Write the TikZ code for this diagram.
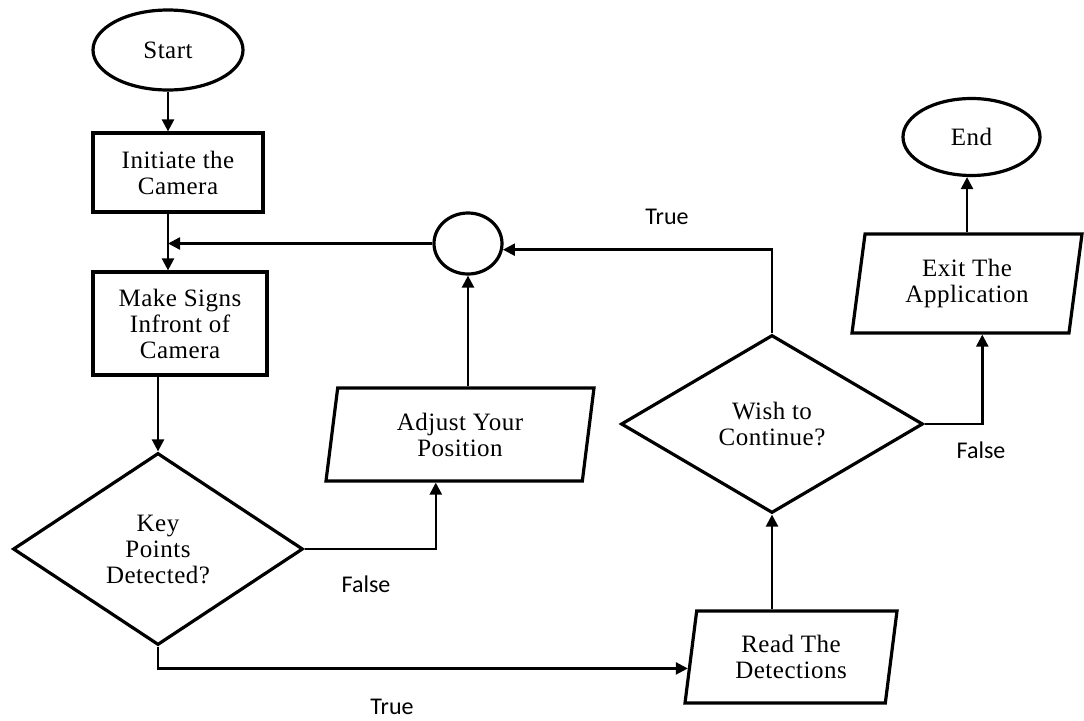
\documentclass[tikz,border=0pt]{standalone}
\usepackage{fontspec}
\setmainfont{Liberation Serif}[LetterSpace=2]
\newfontfamily\labelfont{Carlito}
\usetikzlibrary{shapes.geometric,arrows.meta,calc}

\begin{document}
\begin{tikzpicture}[x=1pt,y=-1pt,
  every node/.style={font=\fontsize{25}{26}\selectfont, align=center},
  shapeline/.style={draw=black, line width=3.2pt},
  terminal/.style={shapeline, ellipse, inner sep=0pt},
  process/.style={shapeline, rectangle, inner sep=0pt},
  decision/.style={shapeline, diamond, inner sep=0pt},
  io/.style={shapeline, trapezium, trapezium left angle=75, trapezium right angle=105,
             trapezium stretches body, inner sep=0pt},
  flow/.style={line width=2.4pt, -{Triangle[length=12pt,width=12pt]}},
  lbl/.style={font=\labelfont\fontsize{24}{26}\selectfont, inner sep=0pt}]

\useasboundingbox (0,0) rectangle (1084,720);

% process chain on the left
\node[terminal, minimum width=150, minimum height=80] (start) at (168,50) {Start};
\node[process, minimum width=170, minimum height=79] (init) at (178,172.5) {Initiate the\\Camera};
\node[process, minimum width=174, minimum height=103] (signs) at (180,323.5) {Make Signs\\Infront of\\Camera};
\node[decision, minimum width=290, minimum height=192] (key) at (158,549) {Key\\Points\\Detected?};

% retry loop
\node[io, minimum width=268, minimum height=93] (adjust) at (460,434.5) {Adjust Your\\Position};
\node[terminal, minimum width=68, minimum height=61] (join) at (468,243.5) {};

% detection and exit branch
\node[io, minimum width=212, minimum height=92] (read) at (791,657) {Read The\\Detections};
\node[decision, minimum width=302, minimum height=178] (wish) at (772,424) {Wish to\\Continue?};
\node[io, minimum width=230, minimum height=99] (exit) at (967,283.5) {Exit The\\Application};
\node[terminal, minimum width=137, minimum height=77] (end) at (971.5,137) {End};

% connection points on slanted / offset edges
\coordinate (adjin) at ($(adjust.bottom left corner)!0.43!(adjust.bottom right corner)$);
\coordinate (readin) at ($(read.top left corner)!0.62!(read.bottom left corner)$);
\coordinate (exitin) at ($(exit.bottom left corner)!0.6!(exit.bottom right corner)$);

% connectors
\draw[flow] (start.south) -- (start.south |- init.north);
\draw[flow] (init.south -| start.south) -- (start.south |- signs.north);
\draw[flow] (join.west) -- (join.west -| start.south);
\draw[flow] (signs.south -| key.north) -- (key.north);
\draw[flow] (key.east) -| (adjin);
\draw[flow] (join.south |- adjust.north) -- (join.south);
\draw[flow] (key.south) |- (readin);
\draw[flow] (read.north -| wish.south) -- (wish.south);
\draw[flow] (wish.north) |- (join.-10);
\draw[flow] (wish.east) -| (exitin);
\draw[flow] (exit.north) -- (exit.north |- end.south);

% branch labels
\node[lbl] (ltrueloop) at (667,217) {True};
\node[lbl] (lfalsekey) at (366,584) {False};
\node[lbl] (ltruekey) at (392,707) {True};
\node[lbl] (lfalsewish) at (981,450) {False};
\end{tikzpicture}
\end{document}
